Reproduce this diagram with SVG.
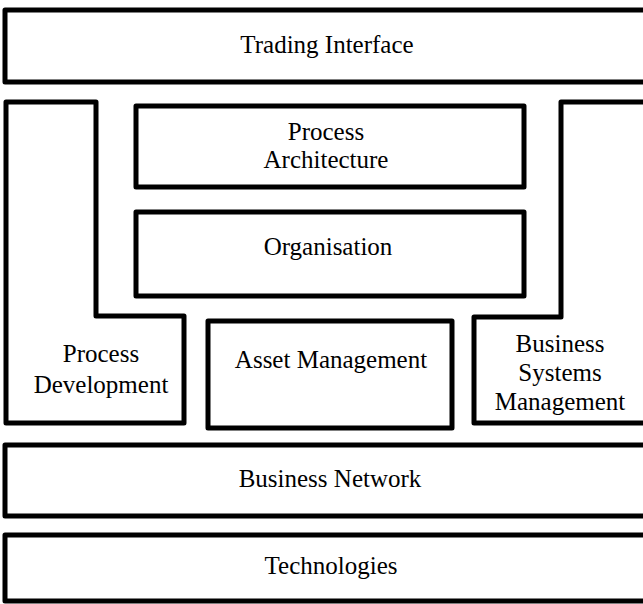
<svg xmlns="http://www.w3.org/2000/svg" width="643" height="604" viewBox="0 0 643 604">
<style>
.b{fill:#fff;stroke:#000;stroke-width:5;stroke-linejoin:round}
.t{font-family:"Liberation Serif","Times New Roman",serif;font-size:25px;fill:#000;text-anchor:middle}
</style>
<rect width="643" height="604" fill="#fff"/>
<g id="trading-interface"><rect class="b" x="5" y="10" width="650" height="72"/><text class="t" x="327" y="53">Trading Interface</text></g>
<g id="process-development"><path class="b" d="M6,102 H96 V316 H184 V423 H6 Z"/><text class="t" x="101" y="362">Process</text><text class="t" x="101" y="393">Development</text></g>
<g id="process-architecture"><rect class="b" x="136" y="106" width="388" height="81"/><text class="t" x="326" y="140">Process</text><text class="t" x="326" y="168">Architecture</text></g>
<g id="organisation"><rect class="b" x="136" y="212" width="388" height="84"/><text class="t" x="328" y="255">Organisation</text></g>
<g id="asset-management"><rect class="b" x="208" y="321" width="244" height="107"/><text class="t" x="331" y="368">Asset Management</text></g>
<g id="business-systems-management"><path class="b" d="M655,102 H561 V317 H474 V423 H655 Z"/><text class="t" x="560" y="352">Business</text><text class="t" x="560" y="381">Systems</text><text class="t" x="560" y="410">Management</text></g>
<g id="business-network"><rect class="b" x="5" y="445" width="650" height="71"/><text class="t" x="330" y="487">Business Network</text></g>
<g id="technologies"><rect class="b" x="5" y="535" width="650" height="66"/><text class="t" x="331" y="574">Technologies</text></g>
<g id="connectors"/>
</svg>
